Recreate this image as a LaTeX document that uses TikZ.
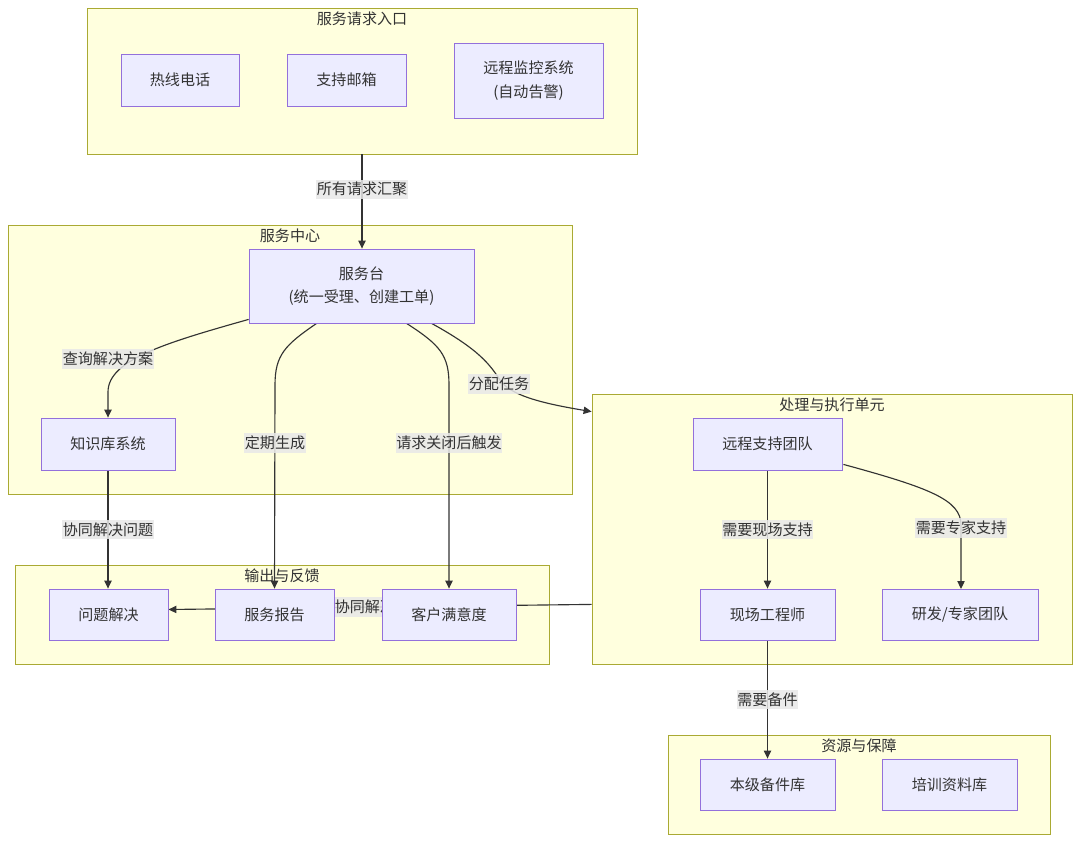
\documentclass[tikz,border=0pt]{standalone}
\usepackage{fontspec}
\setmainfont{Noto Sans CJK SC}
\usetikzlibrary{arrows.meta,calc,fit,positioning}
\definecolor{clfill}{HTML}{FFFFDE}
\definecolor{cldraw}{HTML}{AAAA33}
\definecolor{ndfill}{HTML}{ECECFF}
\definecolor{nddraw}{HTML}{9370DB}
\definecolor{txt}{HTML}{333333}
\definecolor{lblbg}{HTML}{E8E8E8}
\pgfdeclarelayer{bg}
\pgfdeclarelayer{edges}
\pgfsetlayers{bg,edges,main}
\tikzset{
  x=0.75pt, y=-0.75pt,
  every node/.style={font=\fontsize{11.3}{17.5}\selectfont, text=txt},
  box/.style={draw=nddraw, fill=ndfill, line width=0.6pt, align=center, minimum height=39pt, inner sep=2pt},
  cluster/.style={draw=cldraw, fill=clfill, line width=0.6pt, inner sep=0pt},
  ctitle/.style={anchor=north, inner sep=0pt},
  edge/.style={draw=txt, line width=0.85pt, -{Triangle[length=6pt,width=5.5pt]}},
  plain/.style={draw=txt, line width=0.85pt},
  elabel/.style={fill=lblbg, fill opacity=0.85, text opacity=1, inner xsep=0.5pt, inner ysep=2pt}
}
\begin{document}
\begin{tikzpicture}
\useasboundingbox (0,0) rectangle (1080,843);
% clusters
\begin{pgfonlayer}{bg}
\fill[white] (0,0) rectangle (1080,843);
\node[cluster, fit={(87,8) (637,154)}] (c1) {};
\node[cluster, fit={(8,225) (572,494)}] (c2) {};
\node[cluster, fit={(592,394) (1072,664)}] (c3) {};
\node[cluster, fit={(15,565) (549,664)}] (c4) {};
\node[cluster, fit={(668,735) (1050,834)}] (c5) {};
\node[ctitle] (t1) at ($(c1.north)+(0,3.5)$) {服务请求入口};
\node[ctitle] (t2) at ($(c2.north)+(0,3.5)$) {服务中心};
\node[ctitle] (t3) at ($(c3.north)+(0,3.5)$) {处理与执行单元};
\node[ctitle] (t4) at ($(c4.north)+(0,3.5)$) {输出与反馈};
\node[ctitle] (t5) at ($(c5.north)+(0,3.5)$) {资源与保障};
\end{pgfonlayer}
% nodes
\node[box, minimum width=88.5pt] (rx) at (180,80) {热线电话};
\node[box, minimum width=89.25pt] (yx) at (346.5,80) {支持邮箱};
\node[box, minimum width=111.75pt, minimum height=56.25pt] (jk) at (528.5,80.5) {远程监控系统\\(自动告警)};
\node[box, minimum width=168.75pt, minimum height=55.5pt] (fwt) at (361.5,286) {服务台\\(统一受理、创建工单)};
\node[box, minimum width=100.5pt] (zsk) at (108,444) {知识库系统};
\node[box, minimum width=111.75pt] (ycz) at (767.5,444) {远程支持团队};
\node[box, minimum width=101.25pt, minimum height=38.25pt] (xc) at (767.5,614.5) {现场工程师};
\node[box, minimum width=117pt, minimum height=38.25pt] (yf) at (960,614.5) {研发/专家团队};
\node[box, minimum width=89.25pt, minimum height=38.25pt] (wt) at (108.5,614.5) {问题解决};
\node[box, minimum width=89.25pt, minimum height=38.25pt] (bg) at (274.5,614.5) {服务报告};
\node[box, minimum width=100.5pt, minimum height=38.25pt] (kh) at (449,614.5) {客户满意度};
\node[box, minimum width=101.25pt, minimum height=38.25pt] (bj) at (767.5,784.5) {本级备件库};
\node[box, minimum width=101.25pt, minimum height=38.25pt] (px) at (949.5,784.5) {培训资料库};
% edges
\begin{pgfonlayer}{edges}
\draw[edge] (c1.south) -- node[elabel, pos=0.37] {所有请求汇聚} (c1.south |- fwt.north);
\draw[edge] ($(fwt.south west)+(0,-4)$) .. controls (165,343) and (108,360) .. (108,392) -- (zsk.north);
\node[elabel] (l1) at (108,359) {查询解决方案};
\draw[edge] ($(fwt.south west)+(68,0)$) .. controls (285,345) and (275,355) .. (275,385) -- (bg.north);
\node[elabel] (l2) at (275,443) {定期生成};
\draw[edge] ($(fwt.south west)+(158,0)$) .. controls (440,345) and (449,355) .. (449,385) -- (kh.north);
\node[elabel] (l3) at (449,443) {请求关闭后触发};
\coordinate (c3in) at ($(c3.north west)+(0,18)$);
\draw[edge] ($(fwt.south west)+(183,0)$) .. controls (480,350) and (490,365) .. (500,380) .. controls (510,395) and (540,403) .. (c3in);
\node[elabel] (l4) at (499,384) {分配任务};
\draw[edge] (zsk.south) -- node[elabel] {协同解决问题} (zsk.south |- wt.north);
\draw[edge] (ycz.south) -- node[elabel] {需要现场支持} (ycz.south |- xc.north);
\draw[edge] ($(ycz.south east)+(1,-6)$) .. controls (930,488) and (961,500) .. (961,525) -- (961,589);
\node[elabel] (l5) at (961,528) {需要专家支持};
\draw[edge] (xc.south) -- node[elabel] {需要备件} (xc.south |- bj.north);
\coordinate (c3out) at ($(c3.south west)+(0,-60)$);
\draw[edge] (c3out) -- node[elabel, pos=0.5] {协同解决问题} ($(wt.east)+(0,-5)$);
\end{pgfonlayer}
\end{tikzpicture}
\end{document}
